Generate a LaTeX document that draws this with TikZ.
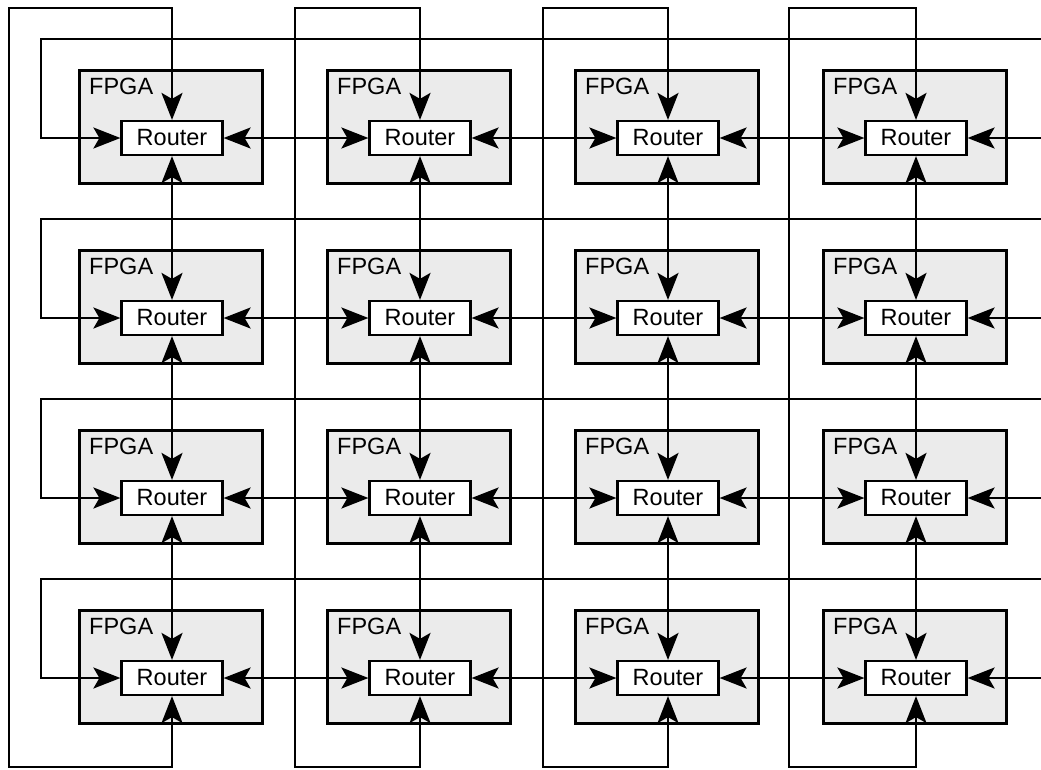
\documentclass[tikz,border=0pt]{standalone}
\usepackage{fontspec}
\setmainfont{Liberation Sans}
\usetikzlibrary{arrows.meta}
\definecolor{fpgagray}{HTML}{EBEBEB}
\begin{document}
\begin{tikzpicture}[x=1pt,y=-1pt,
  fpga/.style={draw=black, line width=2.8pt, fill=fpgagray, minimum width=183pt, minimum height=113pt, inner sep=0pt},
  router/.style={draw=black, line width=2.2pt, fill=white, minimum width=101pt, minimum height=34pt, inner sep=0pt, font=\fontsize{23.5}{27}\selectfont},
  lbl/.style={anchor=base west, inner sep=0pt, font=\fontsize{23.5}{27}\selectfont},
  tip/.tip={Stealth[length=27pt,width=21pt,inset=6pt]},
  link/.style={line width=2.2pt, tip-tip},
  inlink/.style={line width=2.2pt, -tip},
]
\useasboundingbox (0,0) rectangle (1041,769);
% nodes
\foreach \i in {1,...,4} {
  \foreach \j in {1,...,4} {
    \pgfmathsetmacro\cx{172+248*(\i-1)}
    \pgfmathsetmacro\cy{138+180*(\j-1)}
    \node[fpga] (f\i\j) at (\cx-1,\cy-11) {};
    \node[lbl] (l\i\j) at (\cx-83,\cy-44) {FPGA};
    \node[router] (r\i\j) at (\cx,\cy) {Router};
  }
}
% horizontal links between routers
\foreach \i in {1,2,3} {
  \pgfmathtruncatemacro\ni{\i+1}
  \foreach \j in {1,...,4} {
    \draw[link] (r\i\j.east) -- (r\ni\j.west);
  }
}
% vertical links between routers
\foreach \i in {1,...,4} {
  \foreach \j in {1,2,3} {
    \pgfmathtruncatemacro\nj{\j+1}
    \draw[link] (r\i\j.south) -- (r\i\nj.north);
  }
}
% column wrap-around links
\foreach \i/\wx in {1/9,2/295,3/543,4/789} {
  \coordinate (ta\i) at (\wx,8);
  \coordinate (tb\i) at (\wx,767);
  \draw[link] (r\i1.north) |- (ta\i) -- (tb\i) -| (r\i4.south);
}
% row wrap-around links
\foreach \j in {1,...,4} {
  \pgfmathsetmacro\wy{39+180*(\j-1)}
  \pgfmathsetmacro\cy{138+180*(\j-1)}
  \coordinate (ea\j) at (1041,\wy);
  \coordinate (wl\j) at (41,\wy);
  \coordinate (eb\j) at (1041,\cy);
  \draw[inlink] (ea\j) -- (wl\j) |- (r1\j.west);
  \draw[inlink] (eb\j) -- (r4\j.east);
}
\end{tikzpicture}
\end{document}
